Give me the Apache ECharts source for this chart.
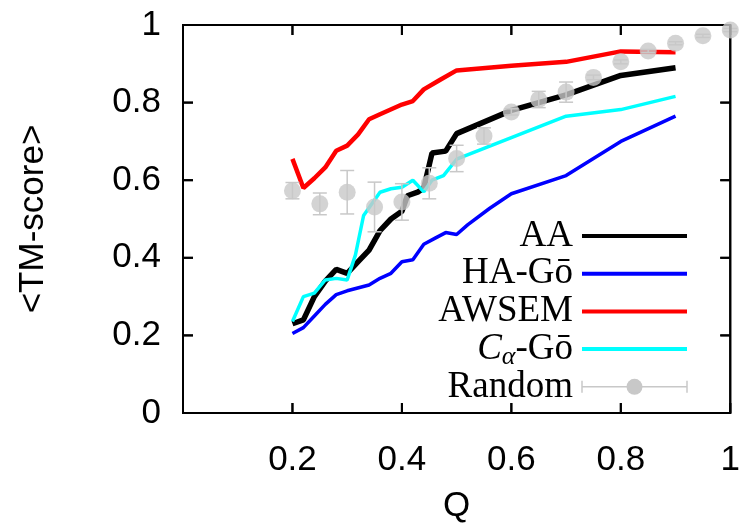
<!DOCTYPE html>
<html><head><meta charset="utf-8">
<script src="https://cdn.jsdelivr.net/npm/echarts@6/dist/echarts.min.js"></script>
<style>html,body{margin:0;padding:0;background:#fff}#c{width:743px;height:529px}</style>
</head><body><div id="c"></div>
<script>
// ---- data ----
const aaQ  = [0.20,0.22,0.24,0.26,0.28,0.30,0.32,0.34,0.36,0.38,0.40,0.41,0.43,0.44,0.455,0.48,0.50,0.60,0.70,0.80,0.90];
const aaV  = [0.23,0.24,0.30,0.34,0.37,0.36,0.39,0.42,0.47,0.50,0.52,0.56,0.57,0.58,0.67,0.675,0.72,0.78,0.82,0.87,0.89];

const haQ  = [0.20,0.22,0.24,0.26,0.28,0.30,0.34,0.36,0.38,0.40,0.42,0.44,0.46,0.48,0.50,0.52,0.56,0.60,0.70,0.80,0.90];
const haV  = [0.205,0.22,0.25,0.28,0.305,0.315,0.33,0.347,0.36,0.39,0.395,0.435,0.45,0.465,0.46,0.485,0.527,0.565,0.612,0.70,0.765];

const awQ  = [0.20,0.22,0.24,0.26,0.28,0.30,0.32,0.34,0.36,0.40,0.42,0.44,0.47,0.50,0.60,0.70,0.80,0.90];
const awV  = [0.655,0.58,0.605,0.633,0.676,0.689,0.718,0.757,0.77,0.795,0.804,0.834,0.859,0.883,0.895,0.905,0.932,0.93];

const caQ  = [0.20,0.22,0.24,0.26,0.28,0.30,0.315,0.33,0.36,0.38,0.40,0.42,0.44,0.455,0.476,0.50,0.60,0.70,0.80,0.90];
const caV  = [0.236,0.30,0.309,0.343,0.347,0.343,0.407,0.509,0.569,0.578,0.582,0.60,0.57,0.60,0.612,0.654,0.71,0.765,0.782,0.816];

const rnQ  = [0.20,0.25,0.30,0.35,0.40,0.45,0.50,0.55,0.60,0.65,0.70,0.75,0.80,0.85,0.90,0.95,1.00];
const rnV  = [0.573,0.539,0.569,0.531,0.544,0.592,0.656,0.714,0.776,0.808,0.827,0.865,0.905,0.933,0.953,0.972,0.987];
const rnE  = [0.021,0.028,0.056,0.064,0.047,0.04,0.034,0.021,0.008,0.021,0.026,0.006,0.005,0.004,0.004,0.004,0.004];

const xTicks = [0.2,0.4,0.6,0.8,1];
const yTicks = [0,0.2,0.4,0.6,0.8,1];
const legendNames = ['AA','HA-Gō','AWSEM','Cα-Gō','Random'];

// ---- chart ----
const zip = (a,b) => a.map((q,i)=>[q,b[i]]);
const chart = echarts.init(document.getElementById('c'));
const sans = 'Liberation Sans, Arial, Helvetica, sans-serif';
const serif = 'Liberation Serif, Times New Roman, serif';
const gray = '#c8c8c8';
const FS = 35;

const lineSeries = (name, q, v, color, w) => ({
  name, type:'line', data: zip(q,v), showSymbol:false, symbol:'none',
  lineStyle:{color, width:w}, itemStyle:{color}, z:3, animation:false
});

const legX = 573, legL0 = 582, legL1 = 687, legY0 = 236, legDy = 37.7;
const legColors = ['#000','#0000ff','#ff0000','#00ffff'];
const LFS = 37;
const graphics = [];
[0,1,2,3].forEach(i=>{
  const y = legY0 + i*legDy;
  graphics.push({type:'line', shape:{x1:legL0,y1:y,x2:legL1,y2:y}, style:{stroke:legColors[i], lineWidth:4}, z:10});
});
const txtStyle = () => ({fill:'#000', font:LFS+'px '+serif, textAlign:'right', textVerticalAlign:'middle'});
graphics.push({type:'text', x:legX, y:legY0, style:Object.assign({text:legendNames[0]}, txtStyle()), z:10});
graphics.push({type:'text', x:legX, y:legY0+legDy, style:Object.assign({text:legendNames[1]}, txtStyle()), z:10});
graphics.push({type:'text', x:legX, y:legY0+2*legDy, style:Object.assign({text:legendNames[2]}, txtStyle()), z:10});
graphics.push({type:'text', x:legX, y:legY0+3*legDy, style:{
  text:'{c|C}{a|α}{g|-Gō}', textAlign:'right', textVerticalAlign:'middle',
  rich:{
    c:{font:'italic '+LFS+'px '+serif, fill:'#000', lineHeight:44},
    a:{font:'italic 26px '+serif, fill:'#000', lineHeight:44, padding:[16,0,0,0]},
    g:{font:LFS+'px '+serif, fill:'#000', lineHeight:44}
  }}, z:10});
const ry = legY0 + 4*legDy;
graphics.push({type:'text', x:legX, y:ry, style:Object.assign({text:legendNames[4]}, txtStyle()), z:10});
graphics.push({type:'line', shape:{x1:legL0,y1:ry,x2:legL1,y2:ry}, style:{stroke:gray, lineWidth:1.5}, z:10});
graphics.push({type:'line', shape:{x1:legL0,y1:ry-6,x2:legL0,y2:ry+6}, style:{stroke:gray, lineWidth:1.5}, z:10});
graphics.push({type:'line', shape:{x1:legL1,y1:ry-6,x2:legL1,y2:ry+6}, style:{stroke:gray, lineWidth:1.5}, z:10});
graphics.push({type:'circle', shape:{cx:(legL0+legL1)/2, cy:ry, r:8}, style:{fill:gray}, z:10});

// frame with inward ticks on all four sides, placed through the axis scales
const frameSeries = {
  name:'frame', type:'custom', z:20, clip:false, animation:false, silent:true,
  data:[[0,0]],
  renderItem:(params, api)=>{
    const p0 = api.coord([0,0]), p1 = api.coord([1,1]);
    const L = 10;
    const st = () => ({stroke:'#000', lineWidth:2});
    const ch = [{type:'rect', shape:{x:p0[0], y:p1[1], width:p1[0]-p0[0], height:p0[1]-p1[1]}, style:{stroke:'#000', lineWidth:2, fill:null}}];
    xTicks.forEach(t=>{
      const x = api.coord([t,0])[0];
      ch.push({type:'line', shape:{x1:x,y1:p0[1],x2:x,y2:p0[1]-L}, style:st()});
      ch.push({type:'line', shape:{x1:x,y1:p1[1],x2:x,y2:p1[1]+L}, style:st()});
    });
    yTicks.forEach(t=>{
      const y = api.coord([0,t])[1];
      ch.push({type:'line', shape:{x1:p0[0],y1:y,x2:p0[0]+L,y2:y}, style:st()});
      ch.push({type:'line', shape:{x1:p1[0],y1:y,x2:p1[0]-L,y2:y}, style:st()});
    });
    return {type:'group', children:ch};
  }
};

chart.setOption({
  animation:false,
  backgroundColor:'#fff',
  grid:{left:183, right:10, top:25, bottom:113},
  xAxis:{
    type:'value', min:0, max:1, interval:0.2, position:'bottom',
    name:'Q', nameLocation:'middle', nameGap:76,
    nameTextStyle:{fontFamily:sans, fontSize:FS, color:'#000'},
    axisLine:{show:false}, axisTick:{show:false}, splitLine:{show:false},
    axisLabel:{fontFamily:sans, fontSize:FS, color:'#000', margin:30,
      formatter:v => xTicks.some(t=>Math.abs(t-v)<1e-9) ? String(+v.toFixed(1)) : ''}
  },
  yAxis:{
    type:'value', min:0, max:1, interval:0.2, position:'left',
    name:'<TM-score>', nameLocation:'middle', nameGap:132, nameRotate:90,
    nameTextStyle:{fontFamily:sans, fontSize:FS, color:'#000'},
    axisLine:{show:false}, axisTick:{show:false}, splitLine:{show:false},
    axisLabel:{fontFamily:sans, fontSize:FS, color:'#000', margin:22,
      formatter:v => String(+v.toFixed(1))}
  },
  series:[
    frameSeries,
    lineSeries('AA', aaQ, aaV, '#000000', 5.5),
    lineSeries('HA-Gō', haQ, haV, '#0000ff', 3.5),
    lineSeries('AWSEM', awQ, awV, '#ff0000', 4.5),
    lineSeries('Cα-Gō', caQ, caV, '#00ffff', 3.5),
    {
      name:'Random-err', type:'custom', z:4, clip:false, animation:false,
      data: rnQ.map((q,i)=>[q, rnV[i]-rnE[i], rnV[i]+rnE[i]]),
      renderItem:(params, api)=>{
        const lo = api.coord([api.value(0), api.value(1)]);
        const hi = api.coord([api.value(0), api.value(2)]);
        const cw = 7;
        const st = () => ({stroke:gray, lineWidth:1.5});
        return {type:'group', children:[
          {type:'line', shape:{x1:lo[0],y1:lo[1],x2:hi[0],y2:hi[1]}, style:st()},
          {type:'line', shape:{x1:lo[0]-cw,y1:lo[1],x2:lo[0]+cw,y2:lo[1]}, style:st()},
          {type:'line', shape:{x1:hi[0]-cw,y1:hi[1],x2:hi[0]+cw,y2:hi[1]}, style:st()}
        ]};
      }
    },
    {
      name:'Random', type:'scatter', z:21, clip:false, animation:false,
      data: zip(rnQ, rnV), symbol:'circle', symbolSize:17,
      itemStyle:{color:gray}
    }
  ],
  graphic: graphics
});

// second pass: frame and ticks as graphic elements, positioned via the chart's own axis scales
try {
  const px = p => chart.convertToPixel({xAxisIndex:0, yAxisIndex:0}, p);
  const p0 = px([0,0]), p1 = px([1,1]);
  if (p0 && p1 && isFinite(p0[0]) && isFinite(p1[1])) {
    const frame = [];
    const L = 10;
    const st = () => ({stroke:'#000', lineWidth:2});
    frame.push({type:'rect', shape:{x:p0[0], y:p1[1], width:p1[0]-p0[0], height:p0[1]-p1[1]}, style:{stroke:'#000', lineWidth:2, fill:'none'}, z:15});
    xTicks.forEach(t=>{
      const x = px([t,0])[0];
      frame.push({type:'line', shape:{x1:x,y1:p0[1],x2:x,y2:p0[1]-L}, style:st(), z:15});
      frame.push({type:'line', shape:{x1:x,y1:p1[1],x2:x,y2:p1[1]+L}, style:st(), z:15});
    });
    yTicks.forEach(t=>{
      const y = px([0,t])[1];
      frame.push({type:'line', shape:{x1:p0[0],y1:y,x2:p0[0]+L,y2:y}, style:st(), z:15});
      frame.push({type:'line', shape:{x1:p1[0],y1:y,x2:p1[0]-L,y2:y}, style:st(), z:15});
    });
    chart.setOption({graphic: graphics.concat(frame)});
  }
} catch (e) {}
</script>
</body></html>
